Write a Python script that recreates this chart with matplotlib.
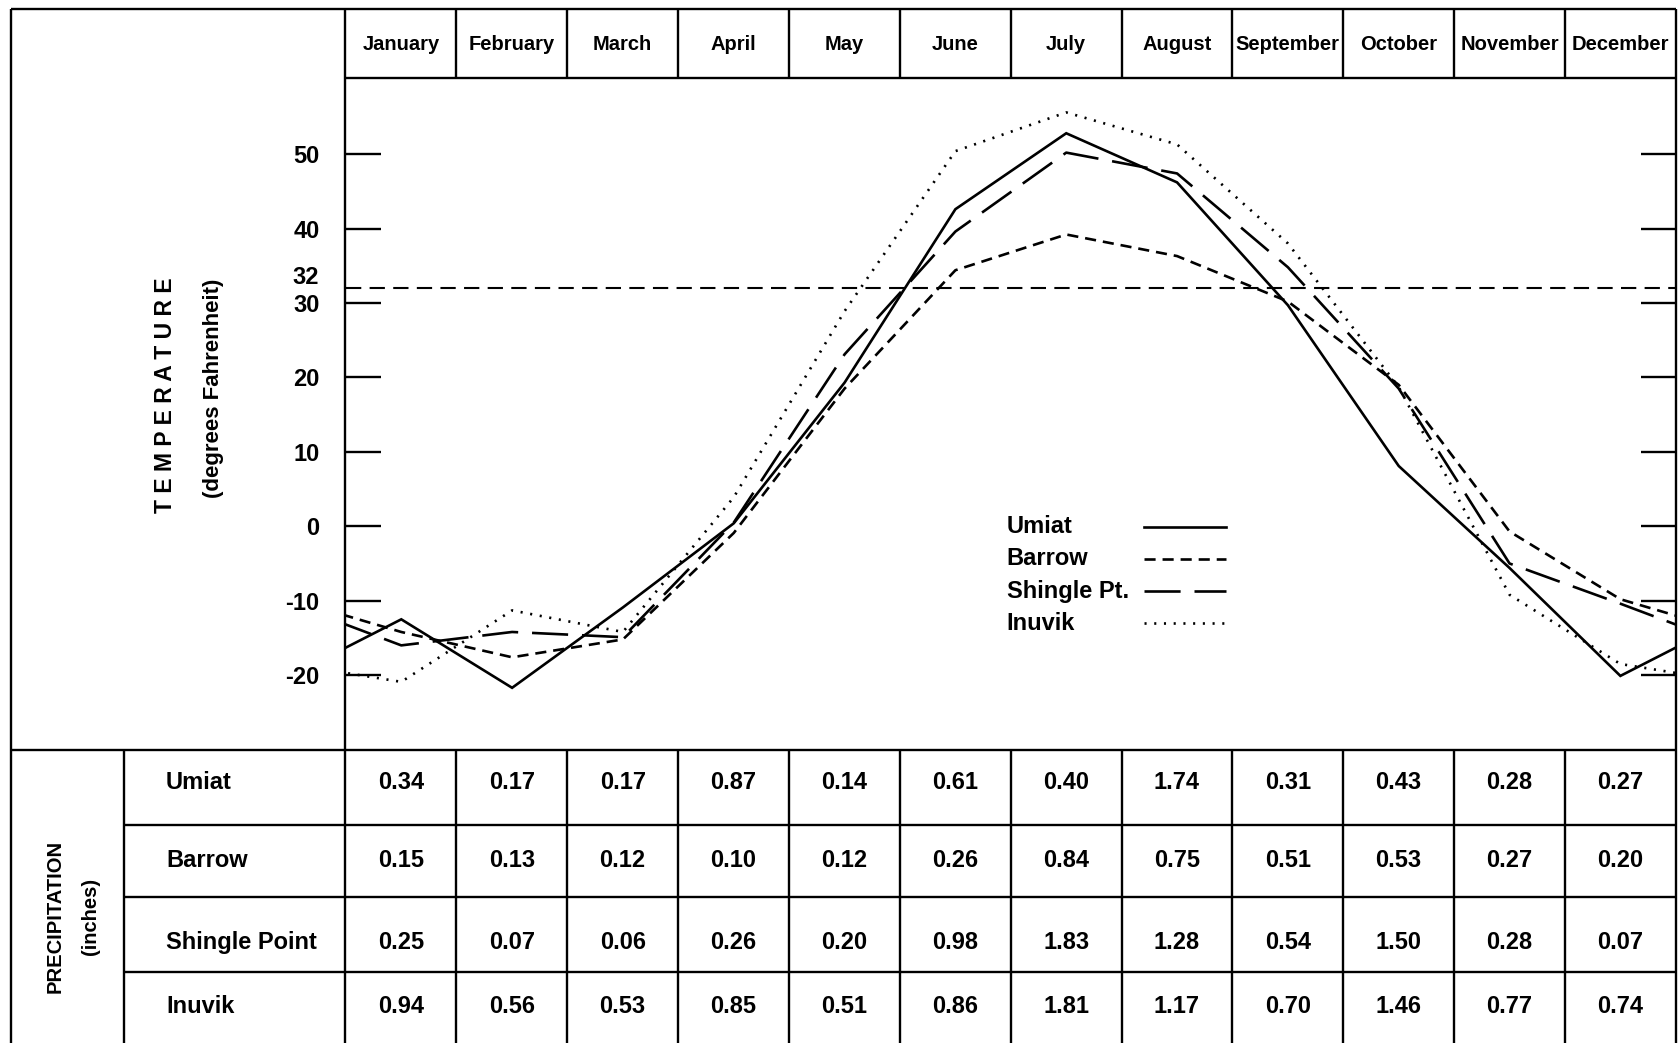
import numpy as np
import matplotlib.pyplot as plt

plt.rcParams['font.family'] = ['Liberation Sans', 'DejaVu Sans']
plt.rcParams['axes.unicode_minus'] = False
plt.rcParams['lines.scale_dashes'] = False

months = ['January', 'February', 'March', 'April', 'May', 'June', 'July',
          'August', 'September', 'October', 'November', 'December']

# mean monthly temperature (deg F)
umiat   = [-12.5, -21.7, -10.9, 0.4, 19.3, 42.6, 52.8, 46.2, 29.7, 8.1, -5.6, -20.1]
barrow  = [-14.2, -17.6, -15.2, -0.9, 18.5, 34.4, 39.2, 36.3, 30.2, 19.0, -0.7, -9.8]
shingle = [-16.0, -14.2, -14.9, 0.5, 23.1, 39.6, 50.2, 47.4, 34.8, 18.5, -5.0, -10.4]
inuvik  = [-20.9, -11.3, -14.2, 3.9, 28.9, 50.4, 55.6, 51.3, 38.0, 18.7, -9.2, -18.5]
freezing = 32

# precipitation (inches)
stations = ['Umiat', 'Barrow', 'Shingle Point', 'Inuvik']
precip_umiat   = [0.34, 0.17, 0.17, 0.87, 0.14, 0.61, 0.40, 1.74, 0.31, 0.43, 0.28, 0.27]
precip_barrow  = [0.15, 0.13, 0.12, 0.10, 0.12, 0.26, 0.84, 0.75, 0.51, 0.53, 0.27, 0.20]
precip_shingle = [0.25, 0.07, 0.06, 0.26, 0.20, 0.98, 1.83, 1.28, 0.54, 1.50, 0.28, 0.07]
precip_inuvik  = [0.94, 0.56, 0.53, 0.85, 0.51, 0.86, 1.81, 1.17, 0.70, 1.46, 0.77, 0.74]

# layout grid of the original sheet (px)
W, H = 1568, 974
def box(x0, y0, x1, y1):
    return [x0 / W, 1 - y1 / H, (x1 - x0) / W, (y1 - y0) / H]

fig = plt.figure(figsize=(16.79, 10.43), dpi=100)
fs = 17

#### frame, header and table grid (x in month units, y in sheet px)
frame = fig.add_axes(box(10, 8, 1565, 974))
frame.set_xlim(-3.52, 11.5)
frame.set_ylim(974, 8)
frame.axis('off')
lw = 1.7
edges = np.arange(len(months) + 1) - 0.5
kw = dict(colors='black', linewidth=lw, clip_on=False)
frame.vlines(edges, 8, 73, **kw)
frame.vlines(edges, 700, 974, **kw)
frame.vlines([-0.5, 11.5], 73, 700, **kw)
frame.vlines([-3.52], 8, 974, **kw)
frame.vlines([-2.5], 700, 974, **kw)
frame.hlines(8, -3.52, 11.5, **kw)
frame.hlines(73, -0.5, 11.5, **kw)
frame.hlines(700, -3.52, 11.5, **kw)
frame.hlines([770, 838, 908], -2.5, 11.5, **kw)

for i, m in enumerate(months):
    frame.text(i, 42, m, ha='center', va='center', fontsize=14.5, fontweight='bold')

frame.text(-2.12, 369, 'T E M P E R A T U R E', rotation=90, ha='center', va='center',
           fontsize=16.5, fontweight='bold')
frame.text(-1.69, 363, '(degrees Fahrenheit)', rotation=90, ha='center', va='center',
           fontsize=16, fontweight='bold')
frame.text(-3.12, 856, 'PRECIPITATION', rotation=90, ha='center', va='center',
           fontsize=14.5, fontweight='bold')
frame.text(-2.80, 856, '(inches)', rotation=90, ha='center', va='center',
           fontsize=14.5, fontweight='bold')

rows = [precip_umiat, precip_barrow, precip_shingle, precip_inuvik]
row_y = [731, 804, 880, 940]
for name, vals, y in zip(stations, rows, row_y):
    frame.text(-2.12, y, name, ha='left', va='center', fontsize=fs, fontweight='bold')
    for i, v in enumerate(vals):
        frame.text(i, y, f'{v:.2f}', ha='center', va='center', fontsize=fs, fontweight='bold')

#### temperature plot
ax = fig.add_axes(box(323, 73, 1565, 700))
ax.set_facecolor('none')
ax.set_xlim(-0.5, 11.5)
ax.set_ylim(-30, 60.2)
for s in ax.spines.values():
    s.set_visible(False)
ax.set_xticks([])
ax.set_yticks([50, 40, 30, 20, 10, 0, -10, -20])
ax.tick_params(axis='y', direction='in', length=25, width=1.7, left=True, right=True,
               labelsize=17, pad=19)
for t in ax.get_yticklabels():
    t.set_fontweight('bold')
ax.text(-0.02, 33.4, '32', transform=ax.get_yaxis_transform(), ha='right', va='center',
        fontsize=17, fontweight='bold')

ax.axhline(freezing, color='black', linewidth=1.5, linestyle=(0, (11, 6)))

styles = [('Umiat', umiat, '-'),
          ('Barrow', barrow, (0, (8, 5))),
          ('Shingle Pt.', shingle, (0, (26, 10))),
          ('Inuvik', inuvik, (0, (1.5, 5.5)))]

# wrap the year round: December before January, January after December
x = np.arange(-1, len(months) + 1)
for name, vals, ls in styles:
    y = [vals[-1]] + list(vals) + [vals[0]]
    ax.plot(x, y, color='black', linewidth=1.9, linestyle=ls, solid_joinstyle='miter')

# hand-drawn style key
key_y = [0.332, 0.284, 0.236, 0.188]
for (name, vals, ls), ky in zip(styles, key_y):
    ax.text(0.497, ky, name, transform=ax.transAxes, ha='left', va='center',
            fontsize=fs, fontweight='bold')
    ax.plot([0.600, 0.662], [ky, ky], transform=ax.transAxes, color='black',
            linewidth=1.9, linestyle=ls)

fig.savefig('out.png', dpi=100)
